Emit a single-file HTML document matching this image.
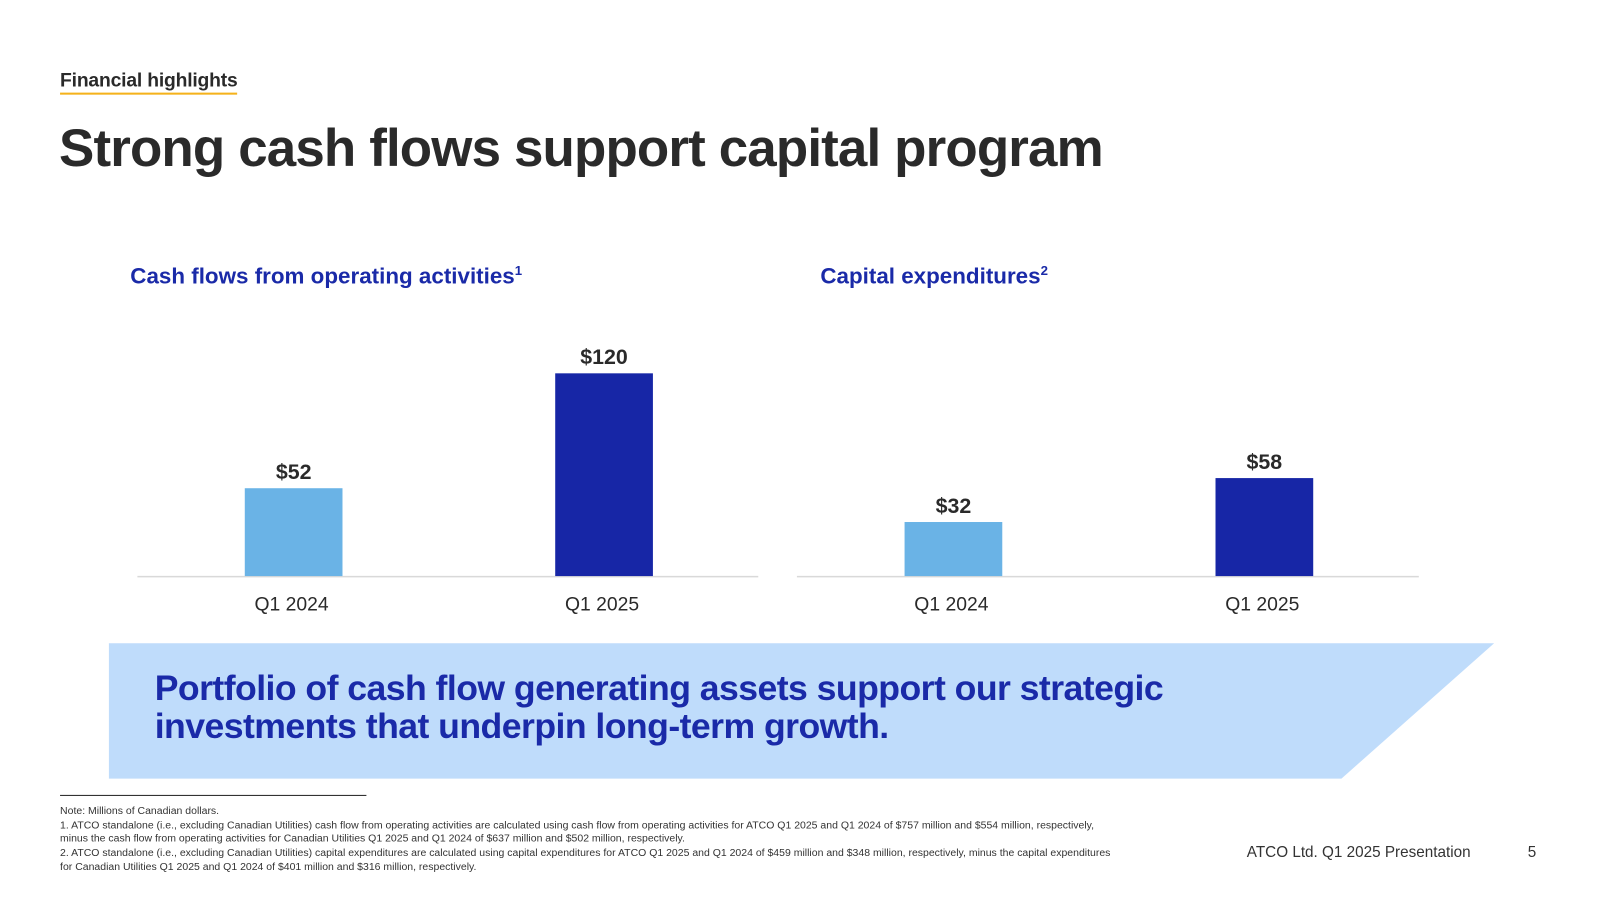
<!DOCTYPE html>
<html><head><meta charset="utf-8"><style>
body{margin:0;width:1600px;height:900px;background:#fff;font-family:"Liberation Sans",sans-serif;position:relative;overflow:hidden}
#wrap{position:absolute;left:0;top:0;width:1600px;height:900px;transform:scale(1.0178);transform-origin:0 0}
.a{position:absolute;margin:0}
</style></head><body>
<div id="wrap">
<div class="a" style="left:59px;top:68px;font-size:19px;font-weight:bold;color:#2a2a2a;letter-spacing:-0.2px;border-bottom:2px solid #f5b21b;line-height:23px">Financial highlights</div>
<h1 class="a" style="left:58px;top:116px;font-size:52px;font-weight:bold;color:#2a2a2a;letter-spacing:-0.85px">Strong cash flows support capital program</h1>
<div class="a" style="left:128px;top:258px;font-size:22px;font-weight:bold;color:#1a2aa8;letter-spacing:0px">Cash flows from operating activities<sup style="font-size:13px">1</sup></div>
<div class="a" style="left:806px;top:258px;font-size:22px;font-weight:bold;color:#1a2aa8;letter-spacing:0px">Capital expenditures<sup style="font-size:13px">2</sup></div>
<svg class="a" id="chart" style="left:0;top:0" width="1600" height="630"></svg>
<svg class="a" style="left:0;top:0" width="1600" height="900"><polygon points="107,632 1468,632 1318,765 107,765" fill="#bfdcfb"/></svg>
<div class="a" style="left:152px;top:658px;font-size:35px;font-weight:bold;color:#1a2aa8;letter-spacing:-0.55px;line-height:37px">Portfolio of cash flow generating assets support our strategic<br>investments that underpin long-term growth.</div>
<div class="a" style="left:59px;top:781px;width:301px;height:1px;background:#222"></div>
<div class="a" style="left:59px;top:791px;width:1040px;font-size:10.3px;line-height:13.7px;color:#333;letter-spacing:0px">Note: Millions of Canadian dollars.<br>1. ATCO standalone (i.e., excluding Canadian Utilities) cash flow from operating activities are calculated using cash flow from operating activities for ATCO Q1 2025 and Q1 2024 of $757 million and $554 million, respectively, minus the cash flow from operating activities for Canadian Utilities Q1 2025 and Q1 2024 of $637 million and $502 million, respectively.<br>2. ATCO standalone (i.e., excluding Canadian Utilities) capital expenditures are calculated using capital expenditures for ATCO Q1 2025 and Q1 2024 of $459 million and $348 million, respectively, minus the capital expenditures for Canadian Utilities Q1 2025 and Q1 2024 of $401 million and $316 million, respectively.</div>
<div class="a" style="left:1225px;top:829px;font-size:15px;color:#333">ATCO Ltd. Q1 2025 Presentation</div>
<div class="a" style="left:1501px;top:829px;font-size:15px;color:#333">5</div>
</div>
<script>
const categories=["Q1 2024","Q1 2025"];
const cashFlows=[52,120];
const capex=[32,58];
const colors=["#6ab3e6","#1726a6"];
const svg=document.getElementById('chart');
const NS='http://www.w3.org/2000/svg';
const baseY=566, scale=1.66;
function yPos(v){return baseY-v*scale;}
function draw(vals,x0,x1,name){
  const ax=document.createElementNS(NS,'line');
  ax.setAttribute('x1',x0);ax.setAttribute('x2',x1);ax.setAttribute('y1',baseY+0.5);ax.setAttribute('y2',baseY+0.5);
  ax.setAttribute('stroke','#d9d9d9');ax.setAttribute('stroke-width','1.5');
  
  
  svg.appendChild(ax);
  const band=(x1-x0)/vals.length;
  vals.forEach((v,i)=>{
    const cx=x0+band*(i+0.5)+1;
    const r=document.createElementNS(NS,'rect');
    r.setAttribute('x',cx-48);r.setAttribute('width',96);
    r.setAttribute('y',yPos(v));r.setAttribute('height',baseY-yPos(v));
    r.setAttribute('fill',colors[i]);
    
    
    svg.appendChild(r);
    const t=document.createElementNS(NS,'text');
    t.setAttribute('x',cx);t.setAttribute('y',yPos(v)-9);t.setAttribute('text-anchor','middle');
    t.setAttribute('font-size','21');t.setAttribute('font-weight','bold');t.setAttribute('fill','#2a2a2a');
    t.textContent='$'+v;
    
    
    svg.appendChild(t);
    const c=document.createElementNS(NS,'text');
    c.setAttribute('x',cx-2);c.setAttribute('y',600);c.setAttribute('text-anchor','middle');
    c.setAttribute('font-size','19');c.setAttribute('fill','#2a2a2a');
    c.textContent=categories[i];
    
    
    svg.appendChild(c);
  });
}
draw(cashFlows,135,745,'cash-flow');
draw(capex,783,1394,'capex');
</script>
</body></html>
